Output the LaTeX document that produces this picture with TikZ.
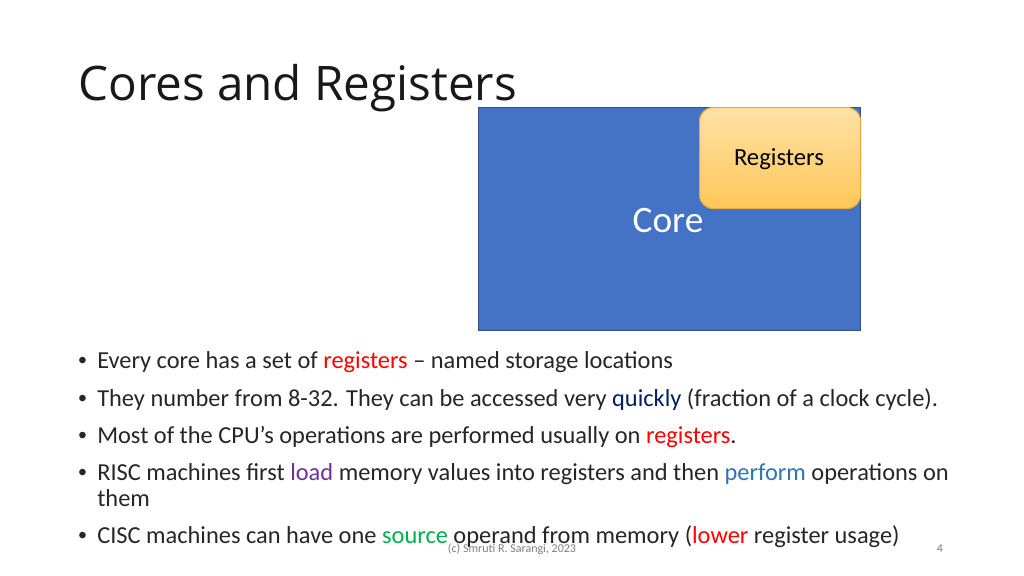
\documentclass[tikz,border=0pt]{standalone}
\usepackage{fontspec}
\setmainfont{Carlito}
\newfontfamily\titlefont{Open Sans}
\newfontfamily\bulfont{Liberation Sans}
\definecolor{coreblue}{HTML}{4472C4}
\definecolor{coreedge}{HTML}{2F528F}
\definecolor{regtop}{HTML}{FFE1A6}
\definecolor{regbot}{HTML}{FFC758}
\definecolor{regedge}{HTML}{E8A93A}
\definecolor{kred}{HTML}{FF0000}
\definecolor{kdblue}{HTML}{002060}
\definecolor{kpurple}{HTML}{7030A0}
\definecolor{kblue}{HTML}{2E75B6}
\definecolor{kgreen}{HTML}{00B050}
\begin{document}
\begin{tikzpicture}[x=0.75pt,y=-0.75pt,
  bul/.style={anchor=base west,inner sep=0pt,font=\fontsize{18.3}{22}\selectfont,text=black!85},
  dot/.style={anchor=base west,inner sep=0pt,font=\bulfont\fontsize{18}{22}\selectfont,text=black!85}]
\useasboundingbox[fill=white] (0,0) rectangle (1024,575);
\node[anchor=base west,inner sep=0pt,font=\titlefont\fontsize{35.7}{42}\selectfont,text=black!90] (title) at (78,100) {Cores and Registers};
\node[draw=coreedge,fill=coreblue,minimum width=382*0.75pt,minimum height=223*0.75pt,inner sep=0pt,anchor=north west,line width=0.8pt] (core) at (478,107) {};
\node[text=white,font=\fontsize{28}{32}\selectfont] (corel) at (668,221) {Core};
\node[draw=regedge,top color=regtop,bottom color=regbot,rounded corners=10pt,minimum width=161*0.75pt,minimum height=101*0.75pt,inner sep=0pt,anchor=north west,line width=0.8pt] (reg) at (699,107) {};
\node[font=\fontsize{18.5}{22}\selectfont] (regl) at (779,159) {Registers};
\foreach \y/\n in {368/1,406/2,443/3,480/4,543/5}{\node[dot] (d\n) at (78,\y) {\textbullet};}
\node[bul] (b1) at (97,368) {Every core has a set of \textcolor{kred}{registers} -- named storage locations};
\node[bul] (b2) at (97,406) {They number from 8-32. They can be accessed very \textcolor{kdblue}{quickly} (fraction of a clock cycle).};
\node[bul] (b3) at (97,443) {Most of the CPU's operations are performed usually on \textcolor{kred}{registers}.};
\node[bul] (b4) at (97,480) {RISC machines first \textcolor{kpurple}{load} memory values into registers and then \textcolor{kblue}{perform} operations on};
\node[bul] (b4b) at (97,506) {them};
\node[bul] (b5) at (97,543) {CISC machines can have one \textcolor{kgreen}{source} operand from memory (\textcolor{kred}{lower} register usage)};
\node[font=\fontsize{9}{11}\selectfont,text=black!50] (foot) at (512,549) {(c) Smruti R. Sarangi, 2023};
\node[font=\fontsize{9}{11}\selectfont,text=black!50] (page) at (940,549) {4};
\end{tikzpicture}
\end{document}
